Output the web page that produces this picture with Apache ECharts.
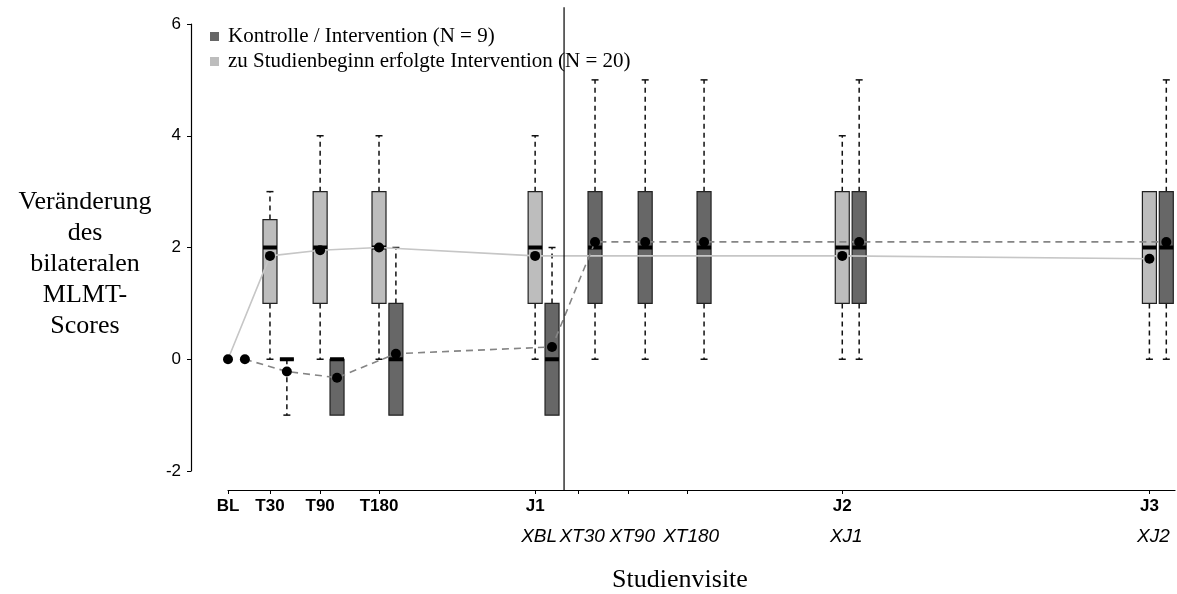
<!DOCTYPE html>
<html>
<head>
<meta charset="utf-8">
<script src="https://cdn.jsdelivr.net/npm/echarts@6/dist/echarts.min.js"></script>
<style>
  body { margin: 0; background: #fff; }
  #chart { width: 1177px; height: 594px; }
</style>
</head>
<body>
<div id="chart"></div>
<script>
  // Visiten und ihre Lage auf der Zeitachse (Monate, grob)
  var visitNames = ['BL', 'T30', 'T90', 'T180', 'J1', 'XT30', 'XT90', 'XT180', 'J2', 'J3'];
  var visitPos = [0, 1.64, 3.6, 5.9, 12, 13.68, 15.64, 17.94, 24, 36];
  var labelsRow1 = ['BL', 'T30', 'T90', 'T180', 'J1', '', '', '', 'J2', 'J3'];
  var labelsRow2 = ['', '', '', '', 'XBL', 'XT30', 'XT90', 'XT180', 'XJ1', 'XJ2'];
  var switchPos = 13.13; // Crossover

  // zu Studienbeginn erfolgte Intervention (hell)
  var lightVisits = ['BL', 'T30', 'T90', 'T180', 'J1', 'J2', 'J3'];
  var lightMin  = [null, 0, 0, 0, 0, 0, 0];
  var lightQ1   = [null, 1, 1, 1, 1, 1, 1];
  var lightMed  = [null, 2, 2, 2, 2, 2, 2];
  var lightQ3   = [null, 2.5, 3, 3, 3, 3, 3];
  var lightMax  = [null, 3, 4, 4, 4, 4, 3];
  var lightMean = [0, 1.85, 1.95, 2.0, 1.85, 1.85, 1.8];

  // Kontrolle / Intervention (dunkel)
  var darkVisits = ['BL', 'T30', 'T90', 'T180', 'J1', 'XT30', 'XT90', 'XT180', 'J2', 'J3'];
  var darkMin  = [null, -1, -1, -1, -1, 0, 0, 0, 0, 0];
  var darkQ1   = [null, 0, -1, -1, -1, 1, 1, 1, 1, 1];
  var darkMed  = [null, 0, 0, 0, 0, 2, 2, 2, 2, 2];
  var darkQ3   = [null, 0, 0, 1, 1, 3, 3, 3, 3, 3];
  var darkMax  = [null, 0, 0, 2, 2, 5, 5, 5, 5, 5];
  var darkMean = [0, -0.22, -0.33, 0.1, 0.22, 2.1, 2.1, 2.1, 2.1, 2.1];

  var LIGHT = '#bdbdbd', DARK = '#676767';
  var DODGE = 0.66;
  var SERIF = 'Liberation Serif', SANS = 'Liberation Sans';

  function posOf(v) { return visitPos[visitNames.indexOf(v)]; }

  function boxData(visits, mn, q1, md, q3, mx, shift) {
    var out = [];
    for (var i = 0; i < visits.length; i++) {
      if (md[i] === null) continue;
      out.push([posOf(visits[i]) + shift, mn[i], q1[i], md[i], q3[i], mx[i]]);
    }
    return out;
  }
  function meanData(visits, mean, shift) {
    return visits.map(function (v, i) { return [posOf(v) + shift, mean[i]]; });
  }

  function boxRenderer(fill) {
    return function (params, api) {
      var x = api.value(0);
      var lo = api.coord([x, api.value(1)]);
      var q1 = api.coord([x, api.value(2)]);
      var md = api.coord([x, api.value(3)]);
      var q3 = api.coord([x, api.value(4)]);
      var hi = api.coord([x, api.value(5)]);
      var cx = md[0], hw = 7, cap = 3.5;
      var dash = { stroke: '#111', lineWidth: 1.5, lineDash: [5, 4] };
      var solid = { stroke: '#111', lineWidth: 1.5 };
      var ch = [];
      if (hi[1] < q3[1] - 0.5) {
        ch.push({ type: 'line', shape: { x1: cx, y1: q3[1], x2: cx, y2: hi[1] }, style: dash });
        ch.push({ type: 'line', shape: { x1: cx - cap, y1: hi[1], x2: cx + cap, y2: hi[1] }, style: solid });
      }
      if (lo[1] > q1[1] + 0.5) {
        ch.push({ type: 'line', shape: { x1: cx, y1: q1[1], x2: cx, y2: lo[1] }, style: dash });
        ch.push({ type: 'line', shape: { x1: cx - cap, y1: lo[1], x2: cx + cap, y2: lo[1] }, style: solid });
      }
      ch.push({ type: 'rect', shape: { x: cx - hw, y: q3[1], width: 2 * hw, height: q1[1] - q3[1] },
        style: { fill: fill, stroke: '#222', lineWidth: 1.2 } });
      ch.push({ type: 'rect', shape: { x: cx - hw, y: md[1] - 2, width: 2 * hw, height: 4 },
        style: { fill: '#000' } });
      return { type: 'group', children: ch };
    };
  }

  function nearestLabel(labels) {
    return function (v) {
      var best = 0;
      for (var i = 1; i < visitPos.length; i++) {
        if (Math.abs(visitPos[i] - v) < Math.abs(visitPos[best] - v)) best = i;
      }
      return labels[best];
    };
  }
  function withLabel(labels) {
    return visitPos.filter(function (p, i) { return labels[i] !== ''; });
  }

  var chart = echarts.init(document.getElementById('chart'));
  chart.setOption({
    animation: false,
    backgroundColor: '#fff',
    grid: { left: 228, right: 2, top: 24, bottom: 123 },
    legend: {
      orient: 'vertical', left: 205, top: 21,
      itemWidth: 9, itemHeight: 9, itemGap: 4, icon: 'rect',
      textStyle: { fontFamily: SERIF, fontSize: 21, color: '#000', padding: [0, 0, 0, 4] },
      data: ['Kontrolle / Intervention (N = 9)', 'zu Studienbeginn erfolgte Intervention (N = 20)']
    },
    xAxis: [{
      type: 'value', min: 0, max: 37, position: 'bottom', offset: 19,
      axisLine: { show: true, onZero: false, lineStyle: { color: '#000', width: 1.2 } },
      axisTick: { show: true, length: 4, customValues: visitPos, lineStyle: { color: '#000' } },
      axisLabel: {
        customValues: withLabel(labelsRow1), formatter: nearestLabel(labelsRow1),
        fontFamily: SANS, fontWeight: 'bold', fontSize: 17, color: '#000', margin: 8
      },
      splitLine: { show: false }
    }, {
      type: 'value', min: 0, max: 37, position: 'bottom', offset: 19,
      axisLine: { show: false, onZero: false }, axisTick: { show: false },
      axisLabel: {
        customValues: withLabel(labelsRow2), formatter: nearestLabel(labelsRow2),
        fontFamily: SANS, fontStyle: 'italic', fontSize: 19, color: '#000', margin: 37,
        padding: [0, 0, 0, 8]
      },
      splitLine: { show: false }
    }],
    yAxis: {
      type: 'value', min: -2, max: 6, interval: 2, offset: 37,
      axisLine: { show: true, onZero: false, lineStyle: { color: '#000', width: 1.2 } },
      axisTick: { show: true, length: 4, lineStyle: { color: '#000' } },
      axisLabel: { fontFamily: SANS, fontSize: 17, color: '#000', margin: 10 },
      splitLine: { show: false }
    },
    series: [
      {
        name: 'zu Studienbeginn erfolgte Intervention (N = 20)', type: 'custom', z: 2,
        itemStyle: { color: LIGHT },
        renderItem: boxRenderer(LIGHT),
        encode: { x: 0, y: [1, 2, 3, 4, 5] },
        data: boxData(lightVisits, lightMin, lightQ1, lightMed, lightQ3, lightMax, 0)
      },
      {
        name: 'Kontrolle / Intervention (N = 9)', type: 'custom', z: 2,
        itemStyle: { color: DARK },
        renderItem: boxRenderer(DARK),
        encode: { x: 0, y: [1, 2, 3, 4, 5] },
        data: boxData(darkVisits, darkMin, darkQ1, darkMed, darkQ3, darkMax, DODGE)
      },
      {
        name: 'Mittelwert hell', type: 'line', z: 3, showSymbol: false, silent: true,
        lineStyle: { color: '#c6c6c6', width: 1.6 },
        data: meanData(lightVisits, lightMean, 0)
      },
      {
        name: 'Mittelwert dunkel', type: 'line', z: 3, showSymbol: false, silent: true,
        lineStyle: { color: '#858585', width: 1.6, type: [7, 5] },
        data: meanData(darkVisits, darkMean, DODGE)
      },
      {
        name: 'Mittel', type: 'scatter', z: 4, symbolSize: 10, silent: true,
        itemStyle: { color: '#000', opacity: 1 },
        data: meanData(lightVisits, lightMean, 0).concat(meanData(darkVisits, darkMean, DODGE))
      },
      {
        name: 'Wechsel', type: 'custom', z: 5, silent: true, clip: false,
        renderItem: function (params, api) {
          var top = api.coord([api.value(0), 6.3]);
          var bot = api.coord([api.value(0), -2.34]);
          return { type: 'line', shape: { x1: top[0], y1: top[1], x2: bot[0], y2: bot[1] },
            style: { stroke: '#000', lineWidth: 1.2 } };
        },
        encode: { x: 0 },
        data: [[switchPos]]
      }
    ],
    graphic: [
      {
        type: 'text', x: 85, y: 264,
        style: {
          text: 'Veränderung\ndes\nbilateralen\nMLMT-\nScores',
          fontFamily: SERIF, fontSize: 26, lineHeight: 31,
          textAlign: 'center', textVerticalAlign: 'middle', fill: '#000'
        }
      },
      {
        type: 'text', x: 680, y: 580,
        style: {
          text: 'Studienvisite', fontFamily: SERIF, fontSize: 26,
          textAlign: 'center', textVerticalAlign: 'middle', fill: '#000'
        }
      }
    ]
  });
</script>
</body>
</html>
